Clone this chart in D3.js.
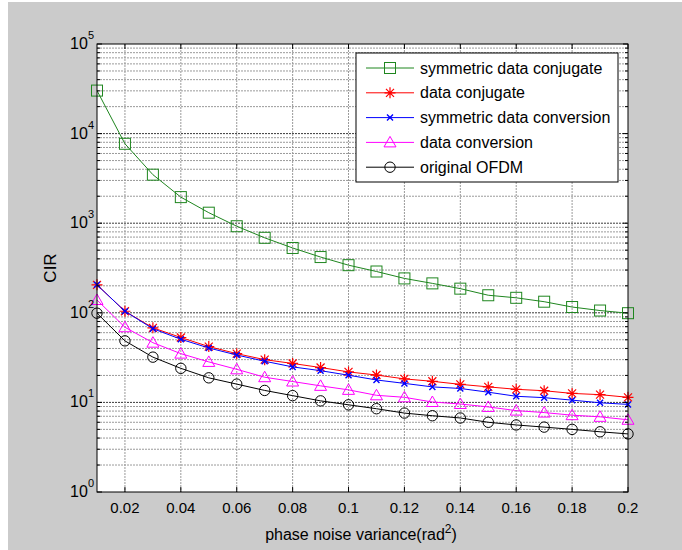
<!DOCTYPE html>
<html>
<head>
<meta charset="utf-8">
<script src="https://cdn.jsdelivr.net/npm/d3@7"></script>
<style>
  body { margin: 0; background: #fff; }
  text { font-family: "Liberation Sans", Arial, sans-serif; fill: #000; }
</style>
</head>
<body>
<div id="ChartContainer"></div>
<script>
// phase noise variance, one point per 0.01
var xValues = [0.01, 0.02, 0.03, 0.04, 0.05, 0.06, 0.07, 0.08, 0.09, 0.1,
  0.11, 0.12, 0.13, 0.14, 0.15, 0.16, 0.17, 0.18, 0.19, 0.2]
var symConjugate = [30200, 7700, 3480, 1955, 1310, 925, 687, 529, 419, 340,
  289, 242, 213, 186, 157, 147, 133, 116, 106, 99]
var dataConjugate = [205, 104, 68, 53, 42, 35, 30, 27.2, 24.5, 21.9,
  20.2, 18.3, 17.2, 15.9, 14.9, 14.0, 13.5, 12.6, 12.2, 11.4]
var symConversion = [205, 104, 66.5, 50.7, 40.5, 33.8, 28.8, 24.9, 22.6, 20.1,
  17.8, 16.3, 14.9, 14.3, 13.0, 11.7, 11.3, 10.6, 9.9, 9.5]
var dataConversion = [139, 69, 46.4, 35, 28.3, 23.4, 19.1, 17.1, 15.3, 13.8,
  12.0, 11.4, 10.1, 9.6, 8.9, 8.1, 7.7, 7.2, 6.9, 6.4]
var originalOFDM = [99, 48.6, 32, 24, 18.8, 16.0, 13.6, 11.9, 10.4, 9.4,
  8.5, 7.6, 7.1, 6.7, 6.0, 5.6, 5.3, 5.0, 4.7, 4.45]

var seriesNames = ["symmetric data conjugate", "data conjugate",
  "symmetric data conversion", "data conversion", "original OFDM"]
var xTicks = [0.02, 0.04, 0.06, 0.08, 0.1, 0.12, 0.14, 0.16, 0.18, 0.2]
var yDecades = [0, 1, 2, 3, 4, 5]

var series = [
  {name: seriesNames[0], values: symConjugate, color: "#1f861f", marker: "square"},
  {name: seriesNames[1], values: dataConjugate, color: "#ff0000", marker: "star"},
  {name: seriesNames[2], values: symConversion, color: "#0000ff", marker: "cross"},
  {name: seriesNames[3], values: dataConversion, color: "#ff00ff", marker: "triangle"},
  {name: seriesNames[4], values: originalOFDM, color: "#000000", marker: "circle"},
]

var fullWidth = 682
var fullHeight = 550
var margin = {top: 44, right: 54, bottom: 58, left: 97}
var width = fullWidth - margin.left - margin.right
var height = fullHeight - margin.top - margin.bottom

var svg = d3.select("#ChartContainer").append("svg")
  .attr("width", fullWidth)
  .attr("height", fullHeight)

// figure background
svg.append("rect")
  .attr("x", 8)
  .attr("y", 2)
  .attr("width", fullWidth - 8)
  .attr("height", fullHeight - 2)
  .attr("fill", "#cbcbcb")

var x = d3.scaleLinear().domain([0.01, 0.2]).range([0, width])
var y = d3.scaleLog().domain([1, 1e5]).range([height, 0])

var g = svg.append("g")
  .attr("transform", `translate(${margin.left},${margin.top})`)

g.append("rect")
  .attr("width", width)
  .attr("height", height)
  .attr("fill", "#fff")

// minor + major y values
var yMinor = []
yDecades.slice(0, -1).forEach(d => {
  for (var k = 2; k <= 9; k++) yMinor.push(k * Math.pow(10, d))
})

// grid
g.selectAll(".GridMinor")
  .data(yMinor)
  .enter().append("line")
  .attr("x1", 0).attr("x2", width)
  .attr("y1", d => y(d)).attr("y2", d => y(d))
  .attr("stroke", "#9a9a9a")
  .attr("stroke-dasharray", "2,1")
g.selectAll(".GridMajor")
  .data(yDecades.slice(1, -1))
  .enter().append("line")
  .attr("x1", 0).attr("x2", width)
  .attr("y1", d => y(Math.pow(10, d))).attr("y2", d => y(Math.pow(10, d)))
  .attr("stroke", "#3a3a3a")
  .attr("stroke-dasharray", "2,1")
g.selectAll(".GridX")
  .data(xTicks.slice(0, -1))
  .enter().append("line")
  .attr("x1", d => x(d)).attr("x2", d => x(d))
  .attr("y1", 0).attr("y2", height)
  .attr("stroke", "#9a9a9a")
  .attr("stroke-dasharray", "2,1")

// markers
function drawMarker(sel, type, color) {
  if (type === "square") {
    sel.append("rect").attr("x", -5.5).attr("y", -5.5).attr("width", 11).attr("height", 11)
      .attr("fill", "none").attr("stroke", color)
  } else if (type === "star") {
    sel.append("path").attr("d", "M-5.5,0H5.5M0,-5.5V5.5M-4,-4L4,4M-4,4L4,-4")
      .attr("stroke", color).attr("stroke-width", 1.2)
  } else if (type === "cross") {
    sel.append("path").attr("d", "M-3,-3L3,3M-3,3L3,-3")
      .attr("stroke", color).attr("stroke-width", 1.4)
  } else if (type === "triangle") {
    sel.append("path").attr("d", "M0,-6L6,4.5L-6,4.5Z")
      .attr("fill", "none").attr("stroke", color)
  } else {
    sel.append("circle").attr("r", 5.2).attr("fill", "none").attr("stroke", color)
  }
}

var line = d3.line()
  .x((d, i) => x(xValues[i]))
  .y(d => y(d))

series.forEach(s => {
  g.append("path")
    .datum(s.values)
    .attr("d", line)
    .attr("fill", "none")
    .attr("stroke", s.color)
    .attr("stroke-width", 1)
  g.selectAll(".m-" + s.marker)
    .data(s.values)
    .enter().append("g")
    .attr("class", "m-" + s.marker)
    .attr("transform", (d, i) => `translate(${x(xValues[i])},${y(d)})`)
    .each(function () { drawMarker(d3.select(this), s.marker, s.color) })
})

// box + ticks (ticks on all four sides, pointing in)
g.append("rect")
  .attr("width", width)
  .attr("height", height)
  .attr("fill", "none")
  .attr("stroke", "#000")

xTicks.forEach(t => {
  g.append("path")
    .attr("d", `M${x(t)},${height}v-5M${x(t)},0v5`)
    .attr("stroke", "#000")
})
yMinor.forEach(t => {
  g.append("path")
    .attr("d", `M0,${y(t)}h3M${width},${y(t)}h-3`)
    .attr("stroke", "#000")
})
yDecades.forEach(d => {
  g.append("path")
    .attr("d", `M0,${y(Math.pow(10, d))}h5M${width},${y(Math.pow(10, d))}h-5`)
    .attr("stroke", "#000")
})

// x tick labels
g.selectAll(".XLabel")
  .data(xTicks)
  .enter().append("text")
  .attr("x", d => x(d))
  .attr("y", height + 21)
  .attr("text-anchor", "middle")
  .attr("font-size", "15px")
  .text(d => d3.format("")(d))

// y tick labels: 10^n
yDecades.forEach(d => {
  var t = g.append("text")
    .attr("x", -3)
    .attr("y", y(Math.pow(10, d)) + 5)
    .attr("text-anchor", "end")
    .attr("font-size", "16px")
  t.append("tspan").text("10")
  t.append("tspan").attr("dy", -10).attr("font-size", "11px").text(d)
})

// axis labels
g.append("text")
  .attr("transform", `translate(${56 - margin.left},${268 - margin.top}) rotate(-90)`)
  .attr("text-anchor", "middle")
  .attr("font-size", "17px")
  .text("CIR")

var xl = g.append("text")
  .attr("x", 361 - margin.left)
  .attr("y", height + 48)
  .attr("text-anchor", "middle")
  .attr("font-size", "16px")
xl.append("tspan").text("phase noise variance(rad")
xl.append("tspan").attr("dy", -7).attr("font-size", "12px").text("2")
xl.append("tspan").attr("dy", 7).text(")")

// legend
var legend = g.append("g")
  .attr("transform", `translate(${356 - margin.left},${53 - margin.top})`)
legend.append("rect")
  .attr("width", 262)
  .attr("height", 129)
  .attr("fill", "#fff")
  .attr("stroke", "#000")

series.forEach((s, i) => {
  var row = legend.append("g")
    .attr("transform", `translate(0,${15 + i * 24.8})`)
  row.append("line")
    .attr("x1", 10).attr("x2", 58)
    .attr("stroke", s.color)
  var m = row.append("g").attr("transform", "translate(34,0)")
  drawMarker(m, s.marker, s.color)
  row.append("text")
    .attr("x", 64)
    .attr("y", 5.5)
    .attr("font-size", "16px")
    .text(s.name)
})
</script>
</body>
</html>
